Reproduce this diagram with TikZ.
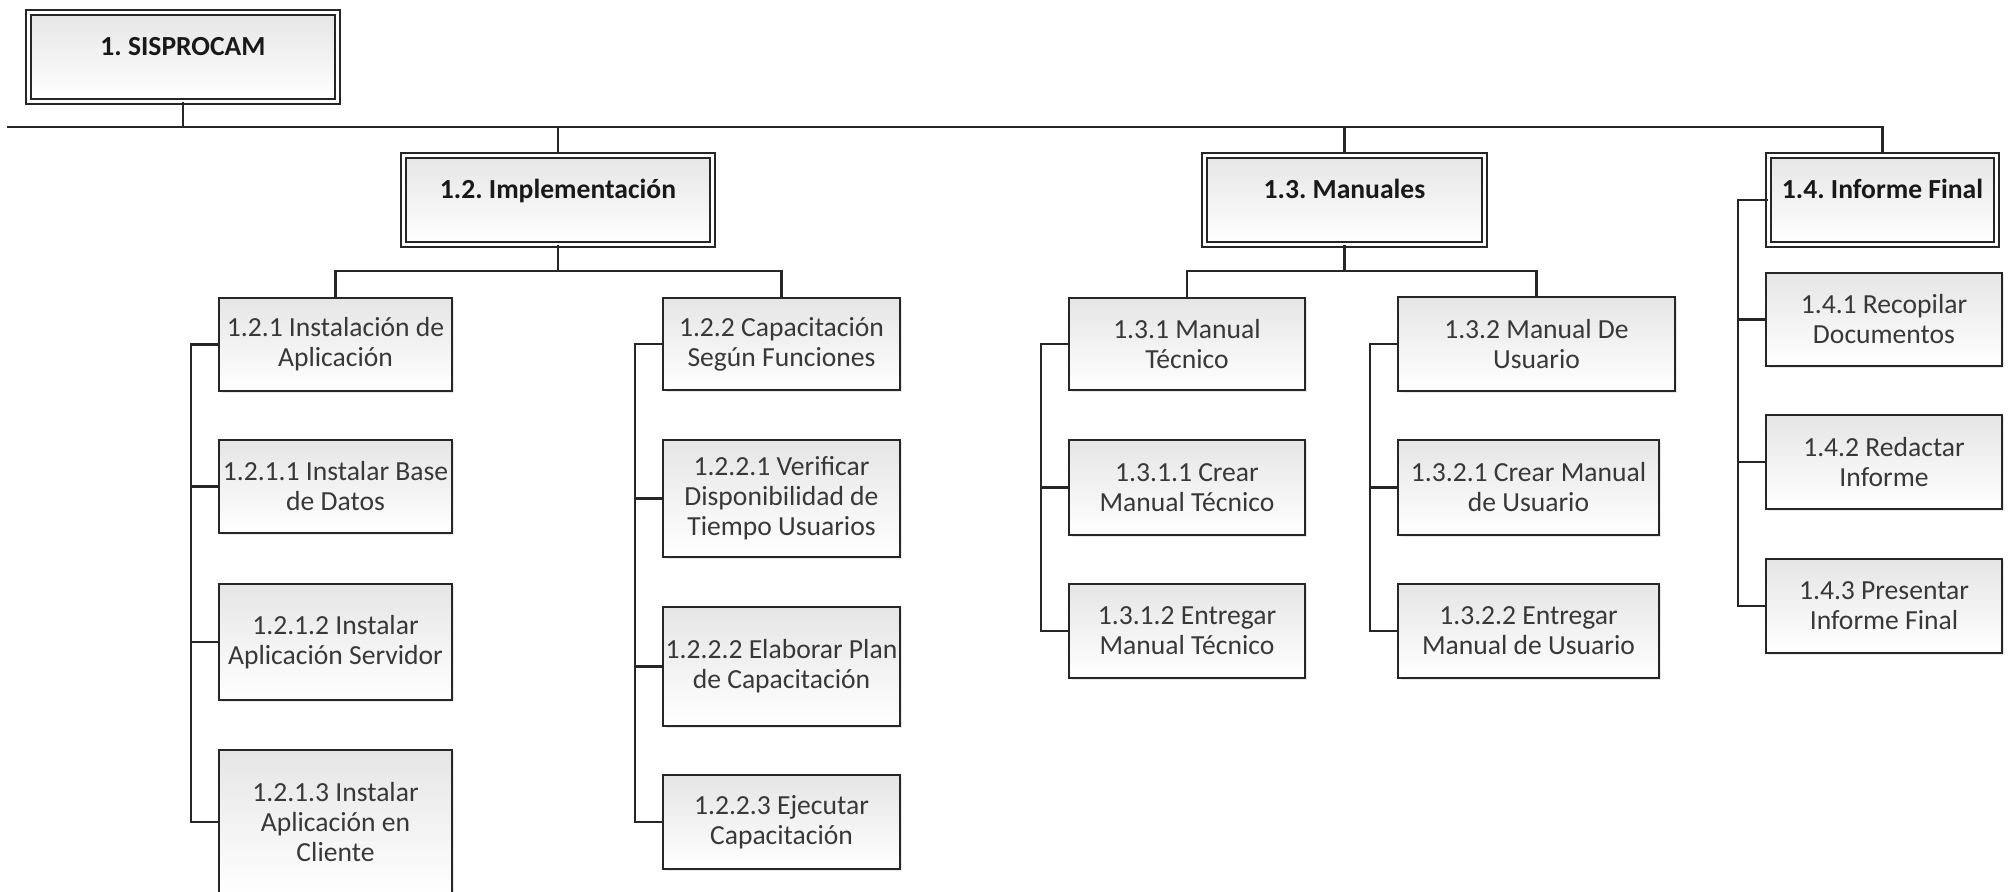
\documentclass[tikz,border=0pt]{standalone}
\usepackage{fontspec}
\setmainfont{Carlito}
\usepackage{tikz}
\usetikzlibrary{positioning, shadows, calc, arrows.meta}
\frenchspacing

\begin{document}
\begin{tikzpicture}[x=0.5pt, y=-0.5pt,
    caja/.style={draw=black!85, line width=1.1pt, top color=black!10, bottom color=white,
      drop shadow={shadow xshift=1.2pt, shadow yshift=-1.2pt, opacity=0.18},
      align=center, inner sep=0pt, text=black!78, font=\fontsize{13.8}{15}\selectfont},
    tarea/.style 2 args={caja, minimum width=#1*0.5pt-1.1pt, minimum height=#2*0.5pt-1.1pt},
    fase/.style 2 args={caja, line width=1pt, double, double distance=1.5pt,
      minimum width=#1*0.5pt-3.5pt, minimum height=#2*0.5pt-3.5pt,
      font=\fontsize{13.8}{15}\selectfont\bfseries, text=black!90,
      text height=10pt, text depth=11pt},
    linea/.style={line width=1.1pt, draw=black!85}]
  \path[use as bounding box, fill=white] (0,0) rectangle (2009,892); % page in pixels

  % fases
  \node[fase={316}{96}] (sis) at (183,57) {1. SISPROCAM};
  \node[fase={316}{96}] (impl) at (558,200) {1.2. Implementación};
  \node[fase={287}{96}] (man) at (1344.5,200) {1.3. Manuales};
  \node[fase={235}{96}] (inf) at (1882.5,200) {1.4. Informe Final};

  % 1.2 Implementacion
  \node[tarea={235}{95}] (t121) at (335.5,344.5) {1.2.1 Instalación de\\Aplicación};
  \node[tarea={235}{95}] (t1211) at (335.5,486.5) {1.2.1.1 Instalar Base\\de Datos};
  \node[tarea={235}{118}] (t1212) at (335.5,642) {1.2.1.2 Instalar\\Aplicación Servidor};
  \node[tarea={235}{146}] (t1213) at (335.5,822) {1.2.1.3 Instalar\\Aplicación en\\Cliente};
  \node[tarea={239}{94}] (t122) at (781.5,344) {1.2.2 Capacitación\\Según Funciones};
  \node[tarea={239}{119}] (t1221) at (781.5,498.5) {1.2.2.1 Verificar\\Disponibilidad de\\Tiempo Usuarios};
  \node[tarea={239}{121}] (t1222) at (781.5,666.5) {1.2.2.2 Elaborar Plan\\de Capacitación};
  \node[tarea={239}{96}] (t1223) at (781.5,822) {1.2.2.3 Ejecutar\\Capacitación};

  % 1.3 Manuales
  \node[tarea={238}{94}] (t131) at (1187,344) {1.3.1 Manual\\Técnico};
  \node[tarea={238}{97}] (t1311) at (1187,487.5) {1.3.1.1 Crear\\Manual Técnico};
  \node[tarea={238}{96}] (t1312) at (1187,631) {1.3.1.2 Entregar\\Manual Técnico};
  \node[tarea={279}{96}] (t132) at (1536.5,344) {1.3.2 Manual De\\Usuario};
  \node[tarea={263}{97}] (t1321) at (1528.5,487.5) {1.3.2.1 Crear Manual\\de Usuario};
  \node[tarea={263}{96}] (t1322) at (1528.5,631) {1.3.2.2 Entregar\\Manual de Usuario};

  % 1.4 Informe Final
  \node[tarea={238}{95}] (t141) at (1884,319.5) {1.4.1 Recopilar\\Documentos};
  \node[tarea={238}{96}] (t142) at (1884,462) {1.4.2 Redactar\\Informe};
  \node[tarea={238}{96}] (t143) at (1884,606) {1.4.3 Presentar\\Informe Final};

  % conectores
  \coordinate (barra) at (7,127);
  \coordinate (r12) at (558,271);
  \coordinate (r13) at (1344.5,271);
  \draw[linea] (barra) -| (inf.north);
  \foreach \n in {sis.south, impl.north, man.north}
    \draw[linea] (\n) -- (\n |- barra);
  \draw[linea] (impl.south) -- (r12);
  \draw[linea] (man.south) -- (r13);
  \draw[linea] (t121.north) |- (r12) -| (t122.north);
  \draw[linea] (t131.north) |- (r13) -| (t132.north);
  \foreach \a/\b in {t121/t1213, t122/t1223, t131/t1312, t132/t1322, inf/t143}
    \draw[linea] (\a.west) -| ([xshift=-13.5pt]\b.west) -- (\b.west);
  \foreach \n in {t1211, t1212, t1221, t1222, t1311, t1321, t141, t142}
    \draw[linea] (\n.west) -- ++(-27,0);
\end{tikzpicture}
\end{document}
